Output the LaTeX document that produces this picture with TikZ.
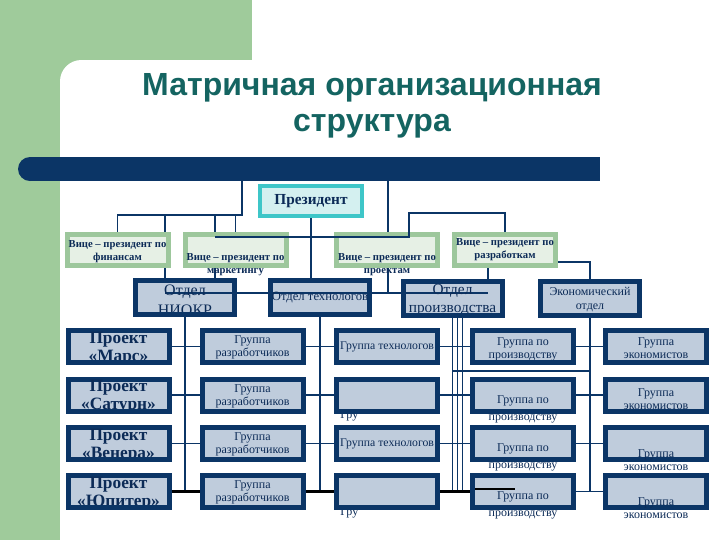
\documentclass[tikz,border=0pt]{standalone}
\usepackage{fontspec}
\setmainfont{Liberation Serif}
\newfontfamily\titlefont{Liberation Sans}
\usetikzlibrary{calc}

\definecolor{sidegreen}{HTML}{9FCB9B}
\definecolor{navy}{HTML}{0B3566}
\definecolor{titleteal}{HTML}{146461}
\definecolor{presborder}{HTML}{3EC6C8}
\definecolor{presfill}{HTML}{D4F0F0}
\definecolor{vpborder}{HTML}{9DC79C}
\definecolor{vpfill}{HTML}{E6F0E5}
\definecolor{cellfill}{HTML}{BFCCDC}
\definecolor{textnavy}{HTML}{0C2B57}

\pgfdeclarelayer{backdrop}
\pgfdeclarelayer{behind}
\pgfsetlayers{backdrop,behind,main}

\begin{document}
\begin{tikzpicture}[x=0.75pt,y=-0.75pt,
  presbox/.style={draw=presborder, fill=presfill, line width=3pt, minimum width=76.5pt, minimum height=22.5pt, inner sep=0pt},
  vpbox/.style={draw=vpborder, fill=vpfill, line width=3.75pt, minimum width=75.75pt, minimum height=23.25pt, inner sep=0pt},
  deptbox/.style={draw=navy, fill=cellfill, line width=3.75pt, minimum width=74.25pt, minimum height=25.5pt, inner sep=0pt},
  cellbox/.style={draw=navy, fill=cellfill, line width=3.75pt, minimum width=75.75pt, minimum height=24pt, inner sep=0pt},
  prestext/.style={text=textnavy, inner sep=0pt, font=\bfseries\fontsize{11.5}{13}\selectfont},
  vptext/.style={text=textnavy, align=center, inner sep=0pt, font=\bfseries\fontsize{8}{9.75}\selectfont},
  depttext/.style={text=textnavy, align=center, inner sep=0pt, font=\fontsize{9.5}{11}\selectfont},
  bigtext/.style={text=textnavy, align=center, inner sep=0pt, font=\fontsize{12}{15}\selectfont},
  projtext/.style={text=textnavy, align=center, inner sep=0pt, font=\bfseries\fontsize{13}{13.5}\selectfont},
  celltext/.style={text=textnavy, align=center, inner sep=0pt, font=\fontsize{9}{9.75}\selectfont},
  link/.style={draw=navy, line width=1.4pt},
  boldlink/.style={draw=black, line width=2pt}]

\useasboundingbox (0,0) rectangle (720,540);

% backdrop
\begin{pgfonlayer}{backdrop}
  \fill[sidegreen] (0,0) rectangle (252,90);
  \fill[sidegreen] (0,0) rectangle (90,540);
  \begin{scope}
    \clip (0,0) rectangle (720,540);
    \fill[white, rounded corners=16pt] (60,60) rectangle (760,580);
  \end{scope}
  \fill[navy] (30,157) rectangle (600,181);
  \fill[navy] (30,169) circle[radius=9pt];
\end{pgfonlayer}

\node[text=titleteal, align=center, inner sep=0pt, font=\titlefont\bfseries\fontsize{24}{27}\selectfont] (title) at (372,106)
  {Матричная организационная\\структура};

% free ends of the connectors
\coordinate (barA) at (242,181);
\coordinate (barB) at (388,181);
\coordinate (fin) at (242,215);
\coordinate (busL) at (165,293);
\coordinate (busM) at (215,293);
\coordinate (busR) at (488,293);
\coordinate (rb) at (409,213);
\coordinate (mid) at (215,237);

% boxes
\node[presbox] (pres) at (311,201) {};
\node[vpbox] (vp1) at (117.5,250) {};
\node[vpbox] (vp2) at (235.5,250) {};
\node[vpbox] (vp3) at (387,250) {};
\node[vpbox] (vp4) at (505,250) {};
\node[deptbox] (d1) at (185,297.5) {};
\node[deptbox] (d2) at (320,297.5) {};
\node[deptbox] (d3) at (452.5,298) {};
\node[deptbox] (d4) at (590,298) {};
\foreach \i/\y in {1/346.5,2/395,3/443.5,4/491.5}{
  \node[cellbox] (proj\i) at (118.5,\y) {};
  \node[cellbox] (dev\i) at (252.5,\y) {};
  \node[cellbox] (tech\i) at (387,\y) {};
  \node[cellbox] (prod\i) at (523,\y) {};
  \node[cellbox] (econ\i) at (656,\y) {};
}
\coordinate (gap) at ($(prod1.south)!0.5!(prod2.north)$);

% connectors under the boxes
\begin{pgfonlayer}{behind}
  \draw[link] (barA) -- (fin) -| (vp1.north);
  \draw[link] (fin) -| (vp2.north);
  \draw[link] (fin -| busL) -- (busL);
  \draw[link] (fin -| busM) -- (busM);
  \draw[link] (barB) -- (barB |- busL);
  \draw[link] (pres.south) -- (pres.south |- d2.north);
  \draw[link] (vp4.south -| busR) -- (busR);
  \draw[link] ($(vp4.east)+(0,12)$) -| (d4.north);
  \foreach \d in {d1,d2,d3,d4}
    \draw[link] (\d.south) -- (\d.south |- proj4.east);
  \draw[link] ($(d3.south)+(5,0)$) -- ($(d3.south |- proj4.east)+(5,0)$);
  \draw[link] ($(d3.south)+(10,0)$) -- ($(d3.south |- proj4.east)+(10,0)$);
  \draw[link] (d3.south |- gap) -- (d4.south |- gap);
  \foreach \i in {1,...,4}
    \draw[link] (proj\i.east) -- (econ\i.west);
  \node[celltext, anchor=base west] (tech2g) at ($(tech2.south west)+(6,5)$) {Гру};
  \node[celltext, anchor=base west] (tech4g) at ($(tech4.south west)+(6,5)$) {Гру};
\end{pgfonlayer}

% connectors over the boxes
\draw[link] (vp4.north) |- (rb) |- (mid);
\draw[link] (busL) -- (busR);
\draw[boldlink] (proj4.east) -- (dev4.west);
\draw[boldlink] (dev4.east) -- (tech4.west);
\draw[boldlink] (tech4.east) -- (prod4.west);
\draw[boldlink] ($(prod4.north west)+(5,16)$) -- ++(40,0);

% texts
\node[prestext] (prest) at (pres) {Президент};
\node[vptext] (vp1t) at ($(vp1)+(0,1.5)$) {Вице – президент по\\финансам};
\node[vptext] (vp2t) at ($(vp2)+(0,15)$) {Вице – президент по\\маркетингу};
\node[vptext] (vp3t) at ($(vp3)+(0,15)$) {Вице – президент по\\проектам};
\node[vptext] (vp4t) at (vp4) {Вице – президент по\\разработкам};
\node[bigtext] (d1t) at ($(d1)+(0,3)$) {Отдел\\НИОКР};
\node[depttext] (d2t) at (d2) {Отдел технологов};
\node[bigtext, font=\fontsize{11.5}{13.5}\selectfont] (d3t) at ($(d3)+(0,2)$) {Отдел\\производства};
\node[depttext, font=\fontsize{9}{10.5}\selectfont] (d4t) at ($(d4)+(0,2)$) {Экономический\\отдел};
\node[celltext, font=\fontsize{8.8}{9.75}\selectfont] (tech1t) at (tech1) {Группа технологов};
\node[celltext, font=\fontsize{8.8}{9.75}\selectfont] (tech3t) at (tech3) {Группа технологов};
\foreach \i/\name/\dp/\lp/\de in {1/Марс/2/9.75/2, 2/Сатурн/13/12.75/4, 3/Венера/13/12.75/16.5, 4/Юпитер/13/12.75/16.5}{
  \node[projtext] (proj\i t) at (proj\i) {Проект\\«\name»};
  \node[celltext] (dev\i t) at (dev\i) {Группа\\разработчиков};
  \node[celltext, font=\fontsize{9}{\lp}\selectfont] (prod\i t) at ($(prod\i)+(0,\dp)$) {Группа по\\производству};
  \node[celltext] (econ\i t) at ($(econ\i)+(0,\de)$) {Группа\\экономистов};
}

% borders that cut the lower text lines
\foreach \b in {proj1,proj2,proj3,proj4,d1,d3,prod1,econ2}
  \fill[navy] (\b.south west) rectangle ([yshift=3.75pt]\b.south east);

\end{tikzpicture}
\end{document}
